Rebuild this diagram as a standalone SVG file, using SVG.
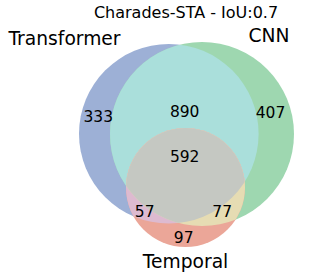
<svg xmlns="http://www.w3.org/2000/svg" width="319" height="280" viewBox="0 0 319 280">
<style>
text{font-family:"DejaVu Sans","Liberation Sans",sans-serif;fill:#000;text-anchor:middle}
.lbl{font-size:18.7px}
.num{font-size:15.5px}
.ttl{font-size:16px}
</style>
<defs>
<clipPath id="clipT"><circle cx="168.8" cy="133.8" r="89.8"/></clipPath>
<clipPath id="clipC"><circle cx="202" cy="134" r="92"/></clipPath>
<clipPath id="clipTemp"><circle cx="185.5" cy="187.5" r="59.5"/></clipPath>
</defs>
<rect width="319" height="280" fill="#fff"/>
<g id="transformer">
<circle cx="168.8" cy="133.8" r="89.8" fill="#9db0d6"/>
</g>
<g id="cnn">
<circle cx="202" cy="134" r="92" fill="#9ed7b0"/>
</g>
<g id="transformer-cnn" clip-path="url(#clipT)">
<circle cx="202" cy="134" r="92" fill="#aadfdb"/>
</g>
<g id="temporal">
<circle cx="185.5" cy="187.5" r="59.5" fill="#eba698"/>
</g>
<g id="transformer-temporal" clip-path="url(#clipT)">
<circle cx="185.5" cy="187.5" r="59.5" fill="#ddbad0"/>
</g>
<g id="cnn-temporal" clip-path="url(#clipC)">
<circle cx="185.5" cy="187.5" r="59.5" fill="#e6dcb3"/>
</g>
<g id="all" clip-path="url(#clipT)">
<circle cx="185.5" cy="187.5" r="59.5" fill="#c5c8c2" clip-path="url(#clipC)"/>
</g>
<g id="labels">
<text class="ttl" x="186" y="18.3">Charades-STA - IoU:0.7</text>
<text class="lbl" x="64.5" y="45">Transformer</text>
<text class="lbl" x="269" y="42.3">CNN</text>
<text class="lbl" x="185.5" y="268.3">Temporal</text>
<text class="num" x="98.3" y="121.7">333</text>
<text class="num" x="184.7" y="116.7">890</text>
<text class="num" x="270.5" y="118.3">407</text>
<text class="num" x="184.7" y="161.7">592</text>
<text class="num" x="144.7" y="216.7">57</text>
<text class="num" x="222.2" y="216.7">77</text>
<text class="num" x="183.7" y="243.3">97</text>
</g>
</svg>
